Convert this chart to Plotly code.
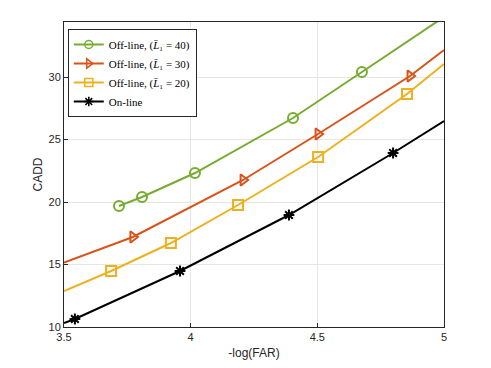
import plotly.graph_objects as go

# series (line vertices, and the points that carry markers)
off40_x = [3.717, 3.808, 4.017, 4.404, 4.676, 5.0]
off40_y = [19.68, 20.4, 22.32, 26.72, 30.4, 34.8]
off40_mx = [3.717, 3.808, 4.017, 4.404, 4.676]
off40_my = [19.68, 20.4, 22.32, 26.72, 30.4]

off30_x = [3.5, 3.772, 4.207, 4.503, 4.866, 5.0]
off30_y = [15.15, 17.2, 21.76, 25.44, 30.08, 32.16]
off30_mx = [3.772, 4.207, 4.503, 4.866]
off30_my = [17.2, 21.76, 25.44, 30.08]

off20_x = [3.5, 3.686, 3.922, 4.187, 4.503, 4.854, 5.0]
off20_y = [12.88, 14.48, 16.72, 19.76, 23.6, 28.64, 31.04]
off20_mx = [3.686, 3.922, 4.187, 4.503, 4.854]
off20_my = [14.48, 16.72, 19.76, 23.6, 28.64]

online_x = [3.5, 3.543, 3.958, 4.388, 4.799, 5.0]
online_y = [10.32, 10.64, 14.48, 18.96, 23.92, 26.48]
online_mx = [3.543, 3.958, 4.388, 4.799]
online_my = [10.64, 14.48, 18.96, 23.92]

x_ticks = [3.5, 4, 4.5, 5]
y_ticks = [10, 15, 20, 25, 30]

series = [
    ("Off-line, (<i>L̄</i>₁ = 40)", off40_x, off40_y, off40_mx, off40_my, "#77AC30", "circle-open"),
    ("Off-line, (<i>L̄</i>₁ = 30)", off30_x, off30_y, off30_mx, off30_my, "#D95319", "triangle-right-open"),
    ("Off-line, (<i>L̄</i>₁ = 20)", off20_x, off20_y, off20_mx, off20_my, "#EDB120", "square-open"),
    ("On-line", online_x, online_y, online_mx, online_my, "#000000", "asterisk-open"),
]

fig = go.Figure()
for name, lx, ly, mx, my, color, sym in series:
    fig.add_trace(go.Scatter(x=lx, y=ly, mode="lines", line=dict(color=color, width=2),
                             showlegend=False, hoverinfo="skip"))
    msize = 10 if sym != "asterisk-open" else 9
    fig.add_trace(go.Scatter(x=mx, y=my, mode="markers", showlegend=False,
                             marker=dict(symbol=sym, size=msize, color=color,
                                         line=dict(color=color, width=2))))
    fig.add_trace(go.Scatter(x=[None], y=[None], mode="lines+markers", name=name,
                             line=dict(color=color, width=2),
                             marker=dict(symbol=sym, size=8, color=color,
                                         line=dict(color=color, width=1.5))))

axis_style = dict(showline=True, linecolor="#262626", linewidth=1, mirror=True,
                  ticks="inside", ticklen=4, tickcolor="#262626", automargin=False,
                  showgrid=True, gridcolor="#E6E6E6", gridwidth=1, zeroline=False,
                  tickfont=dict(family="Liberation Sans", size=11, color="#262626"))

fig.update_xaxes(range=[3.5, 5], tickvals=x_ticks, ticktext=["3.5", "4", "4.5", "5"],
                 title=dict(text="-log(FAR)", font=dict(family="Liberation Sans", size=12, color="#262626"),
                            standoff=6), **axis_style)
fig.update_yaxes(range=[10, 34.4], tickvals=y_ticks,
                 title=dict(text="CADD", font=dict(family="Liberation Sans", size=12, color="#262626"),
                            standoff=3), **axis_style)

# the page adds an 8 px body margin, so the margins are shifted to compensate
fig.update_layout(
    width=491, height=368,
    margin=dict(l=56, r=55, t=14, b=49),
    plot_bgcolor="white", paper_bgcolor="white",
    legend=dict(x=0.01, y=0.977, xanchor="left", yanchor="top",
                bgcolor="white", bordercolor="#262626", borderwidth=1,
                font=dict(family="Liberation Serif", size=11, color="black"),
                tracegroupgap=0, itemwidth=30),
)

fig.write_html("out.html")
